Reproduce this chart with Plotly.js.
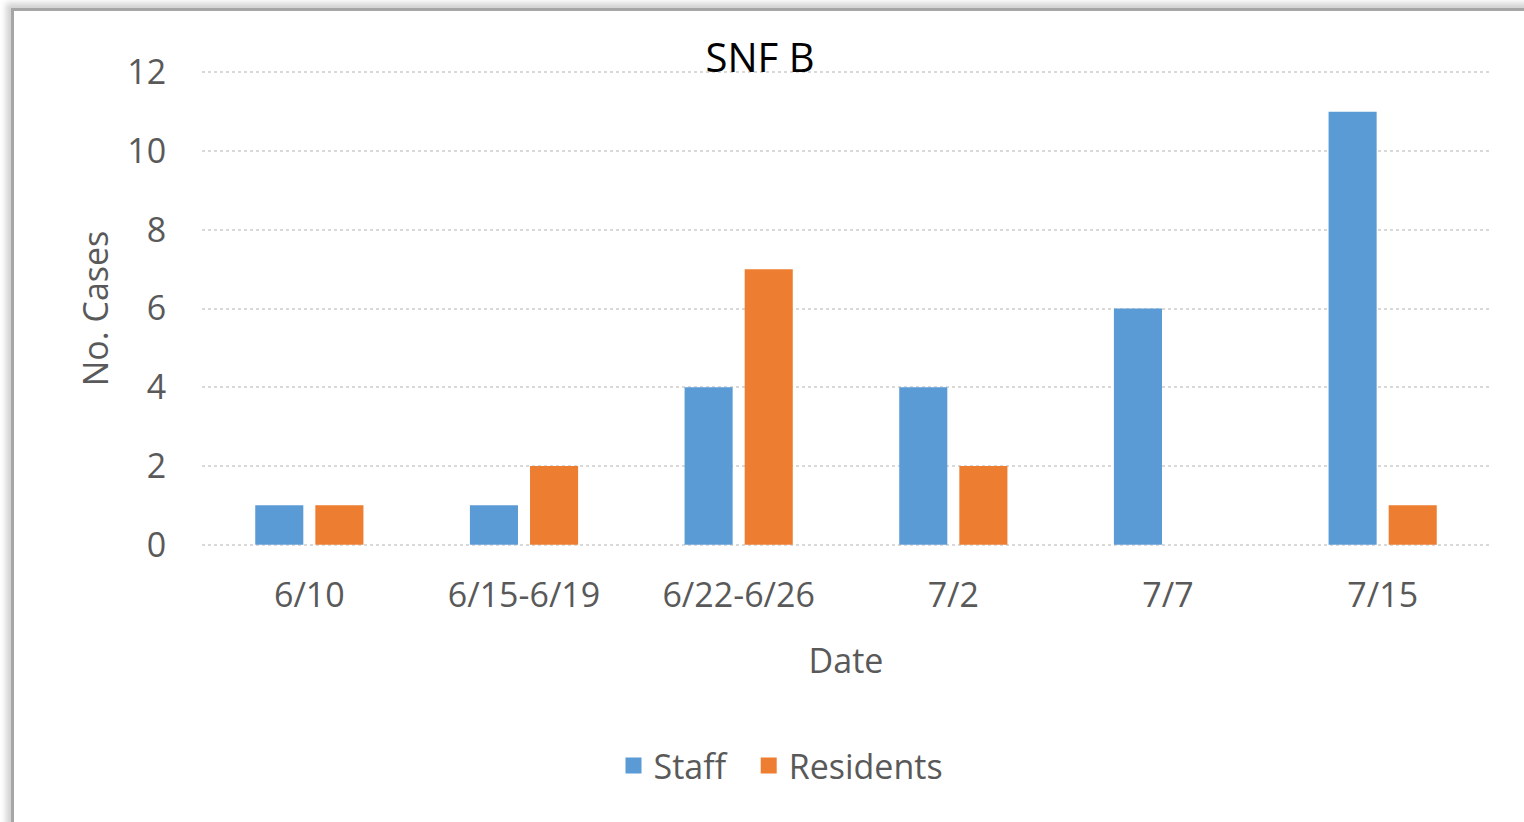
<!DOCTYPE html>
<html>
<head>
<meta charset="utf-8">
<script src="https://cdn.plot.ly/plotly-3.0.1.min.js"></script>
<style>
  html, body { margin: 0; padding: 0; background: #ffffff; overflow: hidden; }
  #chart { position: absolute; left: 0; top: 0; width: 1524px; height: 822px; }
  #frame { position: absolute; left: 11px; top: 8px; width: 1530px; height: 830px;
           border-left: 3px solid #a6a6a6; border-top: 3px solid #a6a6a6;
           box-shadow: -5px -5px 6px rgba(0,0,0,0.18); pointer-events: none; }
</style>
</head>
<body>
<div id="chart"></div>
<div id="frame"></div>
<script>
const categories = ["6/10", "6/15-6/19", "6/22-6/26", "7/2", "7/7", "7/15"];
const staff = [1, 1, 4, 4, 6, 11];
const residents = [1, 2, 7, 2, 0, 1];
const yTicks = [0, 2, 4, 6, 8, 10, 12];
const seriesNames = ["Staff", "Residents"];
const seriesColors = ["#5B9BD5", "#ED7D31"];

const tickColor = "#595959";
const fontFam = "'Open Sans', sans-serif";

const traces = [
  { type: "bar", name: seriesNames[0], x: categories, y: staff, marker: { color: seriesColors[0] }, showlegend: false },
  { type: "bar", name: seriesNames[1], x: categories, y: residents, marker: { color: seriesColors[1] }, showlegend: false },
  // legend-only entries with larger square swatches
  { type: "scatter", mode: "markers", name: seriesNames[0] + "\u00a0\u00a0", x: [null], y: [null],
    marker: { symbol: "square", size: 22, color: seriesColors[0] }, showlegend: true },
  { type: "scatter", mode: "markers", name: seriesNames[1], x: [null], y: [null],
    marker: { symbol: "square", size: 22, color: seriesColors[1] }, showlegend: true }
];

const layout = {
  width: 1524, height: 822,
  paper_bgcolor: "rgba(0,0,0,0)", plot_bgcolor: "rgba(0,0,0,0)",
  margin: { l: 202, r: 34, t: 70, b: 275 },
  barmode: "group", bargap: 0.44, bargroupgap: 0.2,
  title: { text: "SNF B", font: { family: fontFam, size: 40, color: "#000000" },
           x: 0.4987, xref: "container", xanchor: "center", y: 1 - 58/822, yref: "container", yanchor: "middle" },
  xaxis: {
    type: "category", tickfont: { family: fontFam, size: 34, color: tickColor },
    ticks: "outside", ticklen: 18, tickcolor: "rgba(0,0,0,0)",
    showline: false, showgrid: false,
    title: { text: "Date", font: { family: fontFam, size: 34, color: tickColor }, standoff: 33 }
  },
  yaxis: {
    range: [-0.06, 12.06], tickvals: yTicks, ticktext: yTicks.map(String),
    tickfont: { family: fontFam, size: 34, color: tickColor },
    ticks: "outside", ticklen: 28, tickcolor: "rgba(0,0,0,0)",
    showgrid: true, gridcolor: "#d9d9d9", gridwidth: 2, griddash: "dot",
    zeroline: false, showline: false,
    title: { text: "No. Cases", font: { family: fontFam, size: 34, color: tickColor }, standoff: 8 }
  },
  legend: {
    orientation: "h", x: (781 - 202) / 1288, xanchor: "center", y: -(766 - 547) / 477, yanchor: "middle",
    font: { family: fontFam, size: 34, color: tickColor }, itemwidth: 30, itemsizing: "trace"
  },
  showlegend: true
};

Plotly.newPlot("chart", traces, layout, { displayModeBar: false, staticPlot: true });
</script>
</body>
</html>
